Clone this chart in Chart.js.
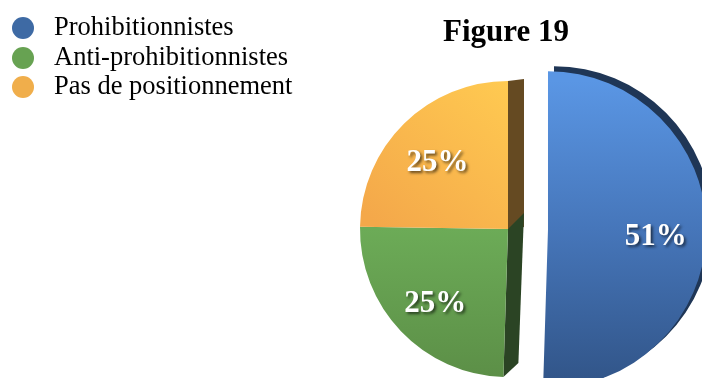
<!DOCTYPE html>
<html lang="fr">
<head>
<meta charset="utf-8">
<title>Figure 19</title>
<script src="https://cdn.jsdelivr.net/npm/chart.js@4/dist/chart.umd.min.js"></script>
<style>
  html, body { margin: 0; padding: 0; background: #ffffff; }
  #wrap { position: relative; width: 702px; height: 378px; overflow: hidden; }
  #pie { position: absolute; left: 0; top: 0; }
  #title {
    position: absolute; left: 506px; top: 15px; transform: translateX(-50%);
    font: bold 31px "Liberation Serif", "Times New Roman", serif;
    line-height: 31px; color: #000; white-space: nowrap;
  }
  #legend { position: absolute; left: 0; top: 11.4px; }
  .item { position: relative; height: 29.4px; line-height: 29.4px; white-space: nowrap;
          font: 26.5px "Liberation Serif", "Times New Roman", serif; color: #000; }
  .item span.dot { position: absolute; left: 12.3px; top: 6px; width: 22px; height: 22px; border-radius: 50%; }
  .item span.txt { position: absolute; left: 54px; top: 0; }
</style>
</head>
<body>
<div id="wrap">
  <canvas id="pie" width="702" height="378"></canvas>
  <div id="title">Figure 19</div>
  <div id="legend"></div>
</div>
<script>
// Répartition des positions (en %)
const categories = ['Prohibitionnistes', 'Anti-prohibitionnistes', 'Pas de positionnement'];
const shares = [51, 25, 25];
const legendColors = ['#3e6aa4', '#67a252', '#f0ae4b'];

const PIE_RADIUS = 148;
const PIE_CX = 508, PIE_CY = 229;
const EXPLODE = 40;          // détachement de la première part
const NEAR_SCALE = 1.07;     // la part détachée, au premier plan, paraît plus grande
const W = 702, H = 378;

// Légende HTML construite à partir des catégories
const legendEl = document.getElementById('legend');
categories.forEach((name, i) => {
  const row = document.createElement('div');
  row.className = 'item';
  const dot = document.createElement('span');
  dot.className = 'dot';
  dot.style.background = legendColors[i];
  const txt = document.createElement('span');
  txt.className = 'txt';
  txt.textContent = name;
  row.appendChild(dot);
  row.appendChild(txt);
  legendEl.appendChild(row);
});

// Dégradés donnant le relief des parts
function sliceFill(context) {
  const chart = context.chart;
  const area = chart.chartArea;
  if (!area) return legendColors[context.dataIndex];
  const c = chart.ctx;
  const cx = (area.left + area.right) / 2;
  const cy = (area.top + area.bottom) / 2;
  const r = PIE_RADIUS;
  let g;
  if (context.dataIndex === 0) {
    g = c.createLinearGradient(0, cy - r, 0, cy + r);
    g.addColorStop(0, '#5a96e4');
    g.addColorStop(0.5, '#4676ba');
    g.addColorStop(1, '#32568a');
  } else if (context.dataIndex === 1) {
    g = c.createLinearGradient(0, cy, 0, cy + r);
    g.addColorStop(0, '#6cab57');
    g.addColorStop(1, '#5c8f47');
  } else {
    g = c.createLinearGradient(cx, cy - r, cx - r * 0.85, cy);
    g.addColorStop(0, '#ffca51');
    g.addColorStop(1, '#f4a84a');
  }
  return g;
}

function arcGeom(arc) {
  const p = arc.getProps(['x', 'y', 'startAngle', 'endAngle', 'outerRadius']);
  return { x: p.x, y: p.y, start: p.startAngle, end: p.endAngle,
           mid: (p.startAngle + p.endAngle) / 2, r: p.outerRadius };
}

// Détache la première part le long de sa bissectrice
const explodePlugin = {
  id: 'explode',
  afterDatasetsUpdate(chart) {
    const arc = chart.getDatasetMeta(0).data[0];
    if (!arc) return;
    const mid = (arc.startAngle + arc.endAngle) / 2;
    arc.x += Math.cos(mid) * EXPLODE;
    arc.y += Math.sin(mid) * EXPLODE;
    arc.outerRadius *= NEAR_SCALE;
  }
};

// Faces latérales et tranche de la part détachée
const sidesPlugin = {
  id: 'sides',
  beforeDatasetsDraw(chart) {
    const meta = chart.getDatasetMeta(0);
    const c = chart.ctx;
    c.save();
    // tranche sombre de la grande part
    if (meta.data[0]) {
      const g = arcGeom(meta.data[0]);
      c.fillStyle = '#1f3656';
      c.beginPath();
      c.moveTo(g.x + 6, g.y - 5);
      c.arc(g.x + 6, g.y - 5, g.r, g.start, g.end);
      c.closePath();
      c.fill();
    }
    // face de la part orange (bord supérieur)
    if (meta.data[2]) {
      const g = arcGeom(meta.data[2]);
      const ex = g.x + Math.cos(g.end) * g.r;
      const ey = g.y + Math.sin(g.end) * g.r;
      c.fillStyle = '#654a22';
      c.beginPath();
      c.moveTo(g.x, g.y);
      c.lineTo(ex, ey);
      c.lineTo(ex + 16, ey - 2);
      c.lineTo(g.x + 16, g.y - 2);
      c.closePath();
      c.fill();
    }
    // face de la part verte (bord inférieur)
    if (meta.data[1]) {
      const g = arcGeom(meta.data[1]);
      const sx = g.x + Math.cos(g.start) * g.r;
      const sy = g.y + Math.sin(g.start) * g.r;
      c.fillStyle = '#2b4424';
      c.beginPath();
      c.moveTo(g.x, g.y);
      c.lineTo(sx, sy);
      c.lineTo(sx + 15, sy - 14);
      c.lineTo(g.x + 16, g.y - 16);
      c.closePath();
      c.fill();
    }
    c.restore();
  }
};

// Étiquettes de pourcentage sur les parts
const valueLabels = {
  id: 'valueLabels',
  afterDatasetsDraw(chart) {
    const meta = chart.getDatasetMeta(0);
    const c = chart.ctx;
    c.save();
    c.font = 'bold 31px "Liberation Serif", "Times New Roman", serif';
    c.textAlign = 'center';
    c.textBaseline = 'middle';
    c.fillStyle = '#ffffff';
    c.shadowColor = 'rgba(0,0,0,0.6)';
    c.shadowOffsetX = 2;
    c.shadowOffsetY = 2;
    c.shadowBlur = 3;
    meta.data.forEach((arc, i) => {
      const g = arcGeom(arc);
      const d = g.r * 0.68;
      c.fillText(shares[i] + '%', g.x + Math.cos(g.mid) * d, g.y + Math.sin(g.mid) * d + 6);
    });
    c.restore();
  }
};

new Chart(document.getElementById('pie'), {
  type: 'pie',
  data: {
    labels: categories,
    datasets: [{
      data: shares,
      backgroundColor: sliceFill,
      borderWidth: 0,
      clip: false
    }]
  },
  options: {
    responsive: false,
    devicePixelRatio: 1,
    animation: false,
    events: [],
    radius: PIE_RADIUS,
    layout: {
      padding: {
        left: 2 * PIE_CX - W,
        right: 0,
        top: 2 * PIE_CY - H,
        bottom: 0
      }
    },
    plugins: {
      legend: { display: false },
      title: { display: false },
      tooltip: { enabled: false }
    }
  },
  plugins: [explodePlugin, sidesPlugin, valueLabels]
});
</script>
</body>
</html>
